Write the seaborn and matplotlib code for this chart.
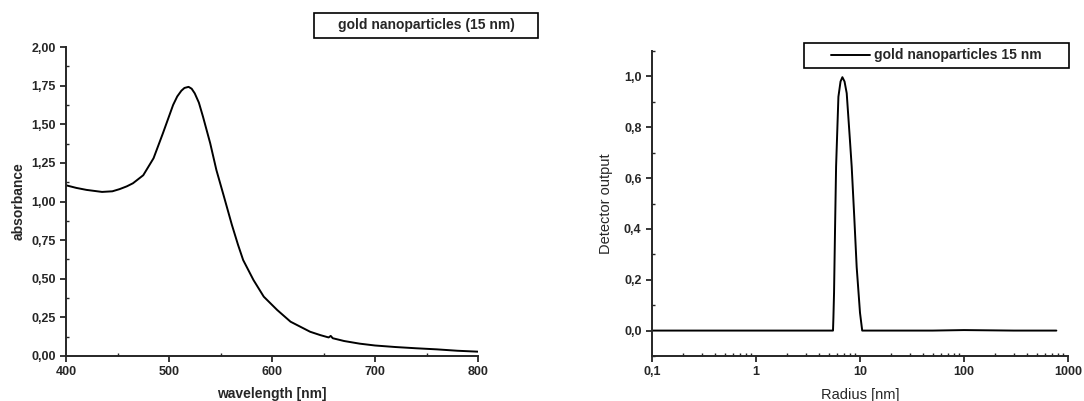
import numpy as np
import pandas as pd
import matplotlib
matplotlib.use("Agg")
import matplotlib.pyplot as plt
import matplotlib.ticker as mticker
from matplotlib.patches import Rectangle
import seaborn as sns

# --- data: UV-Vis absorbance spectrum ---
wavelength = [400, 410, 420, 435, 445, 452, 459, 465, 475, 485, 494, 504, 508, 512, 515, 519, 522, 525, 529,
              533, 540, 546, 553, 561, 567, 572, 582, 592, 605, 618, 637, 647, 655, 657, 659, 670, 685, 700,
              720, 740, 760, 780, 800]
absorbance = [1.105, 1.088, 1.075, 1.062, 1.066, 1.08, 1.098, 1.118, 1.17, 1.28, 1.44, 1.625, 1.68, 1.717, 1.735,
              1.742, 1.73, 1.70, 1.64, 1.549, 1.377, 1.204, 1.04, 0.85, 0.72, 0.621, 0.492, 0.384, 0.298, 0.222,
              0.157, 0.135, 0.12, 0.13, 0.115, 0.097, 0.08, 0.068, 0.058, 0.05, 0.043, 0.034, 0.028]

# --- data: DLS size distribution ---
radius = [0.1, 0.3, 1.0, 3.0, 5.5, 5.55, 5.63, 5.76, 5.89, 6.2, 6.5, 6.77, 7.1, 7.45, 8.0, 8.32, 8.8, 9.29,
          10.0, 10.5, 20, 50, 100, 300, 773]
detector = [0.0, 0.0, 0.0, 0.0, 0.0, 0.05, 0.15, 0.41, 0.646, 0.92, 0.98, 0.997, 0.98, 0.934, 0.75, 0.645, 0.45, 0.25,
            0.07, 0.0, 0.0, 0.0, 0.002, 0.0, 0.0]

df1 = pd.DataFrame({"wavelength": wavelength, "absorbance": absorbance})
df2 = pd.DataFrame({"radius": radius, "detector": detector})

sns.set_theme(style="ticks")
plt.rcParams['font.family'] = ['Liberation Sans', 'DejaVu Sans']
plt.rcParams['axes.linewidth'] = 1.4

fig = plt.figure(figsize=(10.84, 4.01), dpi=100)
W, H = 1084, 401
ax1 = fig.add_axes([66 / W, 1 - 356 / H, (478 - 66) / W, (356 - 47) / H])
ax2 = fig.add_axes([652 / W, 1 - 356 / H, (1068 - 652) / W, (356 - 51) / H])

comma = mticker.FuncFormatter(lambda v, p: f"{v:.2f}".replace(".", ","))
comma1 = mticker.FuncFormatter(lambda v, p: f"{v:.1f}".replace(".", ","))

# left panel
sns.lineplot(data=df1, x="wavelength", y="absorbance", ax=ax1, color="black", lw=1.4, legend=False)
ax1.set_xlim(400, 800)
ax1.set_ylim(0, 2.0)
ax1.xaxis.set_major_locator(mticker.MultipleLocator(100))
ax1.xaxis.set_minor_locator(mticker.MultipleLocator(50))
ax1.yaxis.set_major_locator(mticker.MultipleLocator(0.25))
ax1.yaxis.set_minor_locator(mticker.MultipleLocator(0.125))
ax1.yaxis.set_major_formatter(comma)
ax1.set_xlabel("wavelength [nm]", fontsize=10, fontweight="bold", labelpad=6)
ax1.set_ylabel("absorbance", fontsize=10, fontweight="bold", labelpad=4)
sns.despine(ax=ax1)

# right panel
sns.lineplot(data=df2, x="radius", y="detector", ax=ax2, color="black", lw=1.4,
             label="gold nanoparticles 15 nm")
ax2.set_xscale("log")
ax2.set_xlim(0.1, 1000)
ax2.set_ylim(-0.1, 1.1)
ax2.xaxis.set_major_locator(mticker.LogLocator(base=10, numticks=10))
ax2.xaxis.set_minor_locator(mticker.LogLocator(base=10, subs=np.arange(2, 10), numticks=20))
ax2.xaxis.set_minor_formatter(mticker.NullFormatter())
ax2.xaxis.set_major_formatter(mticker.FuncFormatter(
    lambda v, p: {0.1: "0,1", 1: "1", 10: "10", 100: "100", 1000: "1000"}.get(round(v, 3), "")))
ax2.yaxis.set_major_locator(mticker.MultipleLocator(0.2))
ax2.yaxis.set_minor_locator(mticker.MultipleLocator(0.1))
ax2.yaxis.set_major_formatter(comma1)
ax2.set_xlabel("Radius [nm]", fontsize=10.5, labelpad=7)
ax2.set_ylabel("Detector output", fontsize=10.5, labelpad=8)
sns.despine(ax=ax2)

# legend (frame drawn as a separate rectangle so its padding matches)
ax2.add_patch(Rectangle((804 / W, 1 - 68 / H), (1069 - 804) / W, (68 - 43) / H,
                        transform=fig.transFigure, fill=True, fc="white", ec="black", lw=1.2,
                        zorder=4, clip_on=False))
leg = ax2.legend(loc="center left", bbox_to_anchor=(831 / W, 1 - 55.5 / H), bbox_transform=fig.transFigure,
                 frameon=False, fontsize=10, handlelength=2.8, handletextpad=0.3, borderpad=0.0,
                 borderaxespad=0.0)
leg.set_zorder(6)
for t in leg.get_texts():
    t.set_fontweight("bold")

for ax in (ax1, ax2):
    ax.tick_params(which="major", direction="out", length=4.5, width=1.3, labelsize=9, pad=3)
    ax.tick_params(which="minor", direction="in", length=2.5, width=1.0)
    for lab in ax.get_xticklabels() + ax.get_yticklabels():
        lab.set_fontweight("bold")

# title box of left panel
fig.patches.append(Rectangle((314 / W, 1 - 37.5 / H), (538 - 314) / W, (37.5 - 12.5) / H,
                             transform=fig.transFigure, fill=True, fc="white", ec="black", lw=1.2))
fig.text(426 / W, 1 - 25 / H, "gold nanoparticles (15 nm)", ha="center", va="center",
         fontsize=10, fontweight="bold")

fig.savefig("out.png", dpi=100)
